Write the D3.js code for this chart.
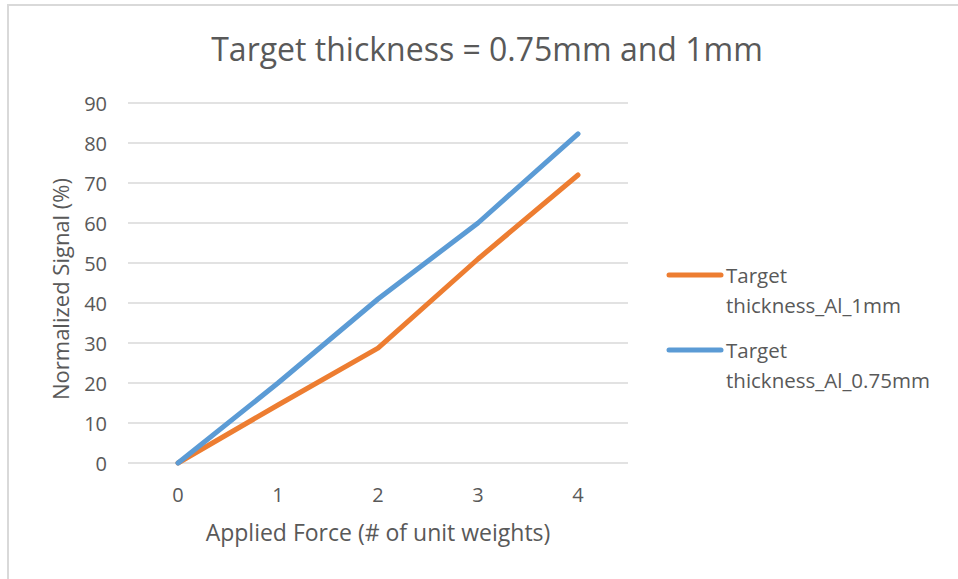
<!DOCTYPE html>
<html><head><meta charset="utf-8">
<script src="https://cdn.jsdelivr.net/npm/d3@7"></script>
<style>body{margin:0;background:#fff;} text{font-family:"Open Sans",sans-serif;fill:#595959;}</style>
</head><body>
<svg id="c" width="958" height="579"></svg>
<script>
const categories = [0, 1, 2, 3, 4];
const series1mm = [0, 14.5, 28.7, 51, 72];
const series075mm = [0, 20, 41, 60, 82.3];
const yTicks = [0, 10, 20, 30, 40, 50, 60, 70, 80, 90];
const seriesNames = ["Target thickness_Al_1mm", "Target thickness_Al_0.75mm"];
const colors = ["#ED7D31", "#5B9BD5"];

const svg = d3.select("#c");
svg.append("rect").attr("x", 8).attr("y", 5).attr("width", 960).attr("height", 600)
  .attr("fill", "#fff").attr("stroke", "#d9d9d9").attr("stroke-width", 2);

const x = d3.scaleBand().domain(categories).range([128, 628]);
const y = d3.scaleLinear().domain([0, 90]).range([463, 103]);

svg.append("g").selectAll("line").data(yTicks).join("line")
  .attr("x1", 128).attr("x2", 628).attr("y1", d => y(d)).attr("y2", d => y(d))
  .attr("stroke", "#d9d9d9").attr("stroke-width", 1.5);

svg.append("g").selectAll("text").data(yTicks).join("text")
  .attr("x", 107).attr("y", d => y(d) + 8).attr("text-anchor", "end")
  .attr("font-size", 20).text(d => d);

svg.append("g").selectAll("text").data(categories).join("text")
  .attr("x", d => x(d) + x.bandwidth() / 2).attr("y", 502).attr("text-anchor", "middle")
  .attr("font-size", 20).text(d => d);

svg.append("text").attr("x", 487).attr("y", 61).attr("text-anchor", "middle")
  .attr("font-size", 32).text("Target thickness = 0.75mm and 1mm");
svg.append("text").attr("x", 378).attr("y", 541).attr("text-anchor", "middle")
  .attr("font-size", 23).text("Applied Force (# of unit weights)");
svg.append("text").attr("transform", "translate(69,289) rotate(-90)").attr("text-anchor", "middle")
  .attr("font-size", 22).text("Normalized Signal (%)");

const line = d3.line().x((d, i) => x(categories[i]) + x.bandwidth() / 2).y(d => y(d));
[series1mm, series075mm].forEach((s, k) => {
  svg.append("path").datum(s).attr("d", line).attr("fill", "none")
    .attr("stroke", colors[k]).attr("stroke-width", 5).attr("stroke-linecap", "round").attr("stroke-linejoin", "round");
});

const legY = [275, 350];
seriesNames.forEach((n, k) => {
  svg.append("line").attr("x1", 669).attr("x2", 721).attr("y1", legY[k]).attr("y2", legY[k])
    .attr("stroke", colors[k]).attr("stroke-width", 5).attr("stroke-linecap", "round");
  const parts = n.split(" ");
  svg.append("text").attr("x", 726).attr("y", legY[k] + 8).attr("font-size", 20.5).text(parts[0]);
  svg.append("text").attr("x", 726).attr("y", legY[k] + 38).attr("font-size", 20.5).text(parts[1]);
});
</script>
</body></html>
